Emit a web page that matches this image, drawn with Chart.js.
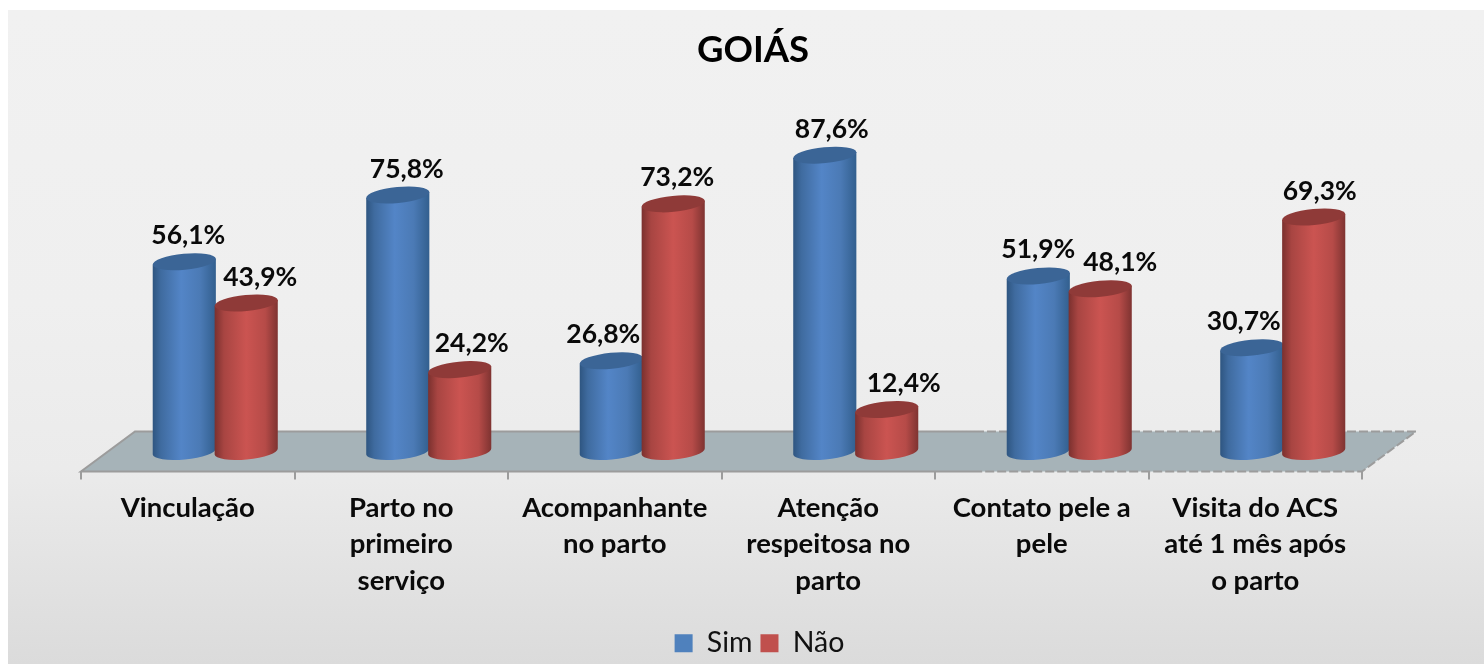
<!DOCTYPE html>
<html><head><meta charset="utf-8">
<style>
html,body{margin:0;padding:0;background:#fff;width:1484px;height:664px;overflow:hidden}
#panel{position:absolute;left:8px;top:10px;width:1476px;height:654px;background:linear-gradient(180deg,#f1f1f1 0%,#efefef 45%,#ebebeb 70%,#dbdbdb 100%)}
#wrap{position:absolute;left:0;top:0;width:1484px;height:664px}
canvas{filter:blur(0.45px)}
</style>
<script src="https://cdn.jsdelivr.net/npm/chart.js@4/dist/chart.umd.min.js"></script>
</head><body>
<div id="panel"></div>
<div id="wrap"><canvas id="c" width="1484" height="664"></canvas></div>
<script>
const titleText = 'GOIÁS';
const categories = [
  ['Vinculação'],
  ['Parto no','primeiro','serviço'],
  ['Acompanhante','no parto'],
  ['Atenção','respeitosa no','parto'],
  ['Contato pele a','pele'],
  ['Visita do ACS','até 1 mês após','o parto']
];
const sim = [56.1, 75.8, 26.8, 87.6, 51.9, 30.7];
const nao = [43.9, 24.2, 73.2, 12.4, 48.1, 69.3];
const simName = 'Sim', naoName = 'Não';
// label nudges (px), as placed in the reference to avoid overlaps
const simNudge = [4, 9, -8, 7, 0, -8];
const naoNudge = [14, 12, 4, 17, 20, 6];

const FONT = 'Lato, "Open Sans", sans-serif';
const DX = 27.5, DY = 20, FLOOR_DEPTH_X = 54, FLOOR_DEPTH_Y = 40;
const ROT = -0.095, RY = 8;
const styles = [
  {stops:[[0,'#2e5580'],[.13,'#3f6b9f'],[.45,'#5385c7'],[.75,'#4b7ab5'],[1,'#325f8e']], top:'#3b6596', nudge:simNudge},
  {stops:[[0,'#7a302e'],[.15,'#a84542'],[.5,'#cb5451'],[.8,'#b64b48'],[1,'#7e3331']], top:'#8f3a38', nudge:naoNudge}
];

function cylinder(ctx, el, st){
  const w = el.width + 1.5, rx = w/2;
  const cx = el.x + DX, top = el.y - DY, bot = el.base - DY;
  const tx = rx*Math.cos(ROT), ty = rx*Math.sin(ROT);
  const g = ctx.createLinearGradient(cx-rx,0,cx+rx,0);
  st.stops.forEach(s=>g.addColorStop(s[0],s[1]));
  ctx.beginPath();
  ctx.moveTo(cx-tx, top-ty);
  ctx.lineTo(cx-tx, bot-ty);
  ctx.ellipse(cx, bot, rx, RY, ROT, Math.PI, 0, true);
  ctx.lineTo(cx+tx, top+ty);
  ctx.closePath();
  ctx.fillStyle = g; ctx.fill();
  ctx.beginPath();
  ctx.ellipse(cx, top, rx, RY, ROT, 0, Math.PI*2);
  ctx.fillStyle = st.top; ctx.fill();
}

const cylinderPlugin = {
  id:'cylinders',
  afterLayout(chart){
    const t = chart.titleBlock, l = chart.legend;
    t.left += 31.5; t.right += 31.5;
    l.left += 38; l.right += 38;
    l.top += 3.5; l.bottom += 3.5;
  },
  beforeDatasetDraw(){ return false; },
  beforeDatasetsDraw(chart){
    const {ctx, chartArea:a} = chart;
    const L=a.left,R=a.right,B=a.bottom,bk=B-FLOOR_DEPTH_Y;
    const split = 975;
    ctx.save();
    ctx.beginPath();
    ctx.moveTo(L,B); ctx.lineTo(L+FLOOR_DEPTH_X,bk); ctx.lineTo(R+FLOOR_DEPTH_X,bk); ctx.lineTo(R,B); ctx.closePath();
    ctx.fillStyle='#a6b3b8'; ctx.fill();
    ctx.strokeStyle='#9c9c9c'; ctx.lineWidth=2;
    ctx.beginPath();
    ctx.moveTo(split,B); ctx.lineTo(L,B); ctx.lineTo(L+FLOOR_DEPTH_X,bk); ctx.lineTo(split,bk);
    ctx.stroke();
    ctx.setLineDash([9,3]);
    ctx.beginPath();
    ctx.moveTo(split,bk); ctx.lineTo(R+FLOOR_DEPTH_X,bk); ctx.lineTo(R,B); ctx.lineTo(split,B);
    ctx.stroke();
    ctx.setLineDash([]);
    for(let d=0;d<2;d++){
      chart.getDatasetMeta(d).data.forEach(el=>cylinder(ctx,el,styles[d]));
    }
    ctx.restore();
  },
  afterDatasetsDraw(chart){
    const {ctx} = chart;
    ctx.save();
    ctx.font = '700 26.5px '+FONT;
    ctx.fillStyle='#0a0a0a';
    ctx.textAlign='center'; ctx.textBaseline='middle';
    for(let d=0;d<2;d++){
      const ds = chart.data.datasets[d];
      chart.getDatasetMeta(d).data.forEach((el,i)=>{
        const txt = ds.data[i].toFixed(1).replace('.',',')+'%';
        ctx.fillText(txt, el.x+DX+styles[d].nudge[i], el.y-DY-26);
      });
    }
    ctx.restore();
  }
};

new Chart(document.getElementById('c'),{
  type:'bar',
  data:{labels:categories,datasets:[
    {label:simName,data:sim,backgroundColor:'#4f81bd',borderColor:'#4f81bd',categoryPercentage:0.58,barPercentage:1},
    {label:naoName,data:nao,backgroundColor:'#c0504d',borderColor:'#c0504d',categoryPercentage:0.58,barPercentage:1}
  ]},
  plugins:[cylinderPlugin],
  options:{
    responsive:false,animation:false,
    layout:{padding:{left:81,right:122,top:0,bottom:0}},
    plugins:{
      tooltip:{enabled:false},
      title:{display:true,text:titleText,color:'#000',font:{family:FONT,size:36.5,weight:'700'},padding:{top:28.4,bottom:61}},
      legend:{display:true,position:'bottom',
        labels:{boxWidth:18,boxHeight:18,padding:8,color:'#111',font:{family:FONT,size:28.5}}}
    },
    scales:{
      x:{
        offset:true,
        border:{display:false},
        grid:{drawOnChartArea:false,drawTicks:true,tickLength:8,color:'#9c9c9c',lineWidth:2,offset:true},
        ticks:{color:'#0a0a0a',padding:10,maxRotation:0,minRotation:0,autoSkip:false,font:{family:FONT,size:27.5,weight:'700',lineHeight:1.33}},
        afterFit(s){ s.height=146; }
      },
      y:{display:false,min:0,max:100}
    }
  }
});
</script>
</body></html>
